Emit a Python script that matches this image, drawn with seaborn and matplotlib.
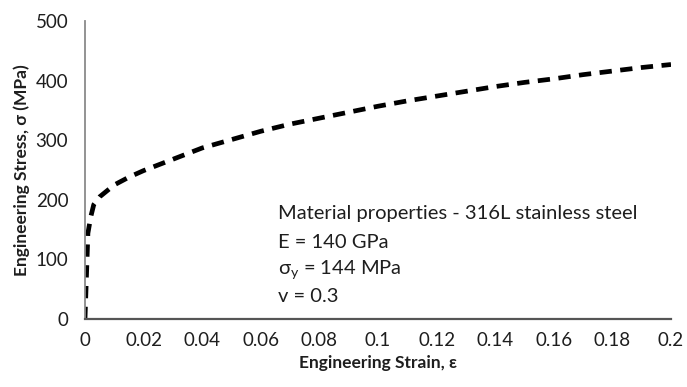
import matplotlib
matplotlib.use("Agg")
import matplotlib.pyplot as plt
import seaborn as sns
import pandas as pd

# Engineering stress-strain curve, 316L stainless steel
strain = [0, 0.001, 0.002, 0.003, 0.005, 0.01, 0.015, 0.02, 0.03, 0.04, 0.05,
          0.06, 0.07, 0.08, 0.09, 0.10, 0.11, 0.12, 0.13, 0.14, 0.15, 0.16,
          0.17, 0.18, 0.19, 0.20]
stress = [0, 144, 172, 192, 205, 225, 238, 249, 268, 287, 301, 315, 327, 337,
          347, 357, 366, 374, 382, 390, 397, 403, 410, 416, 422, 427]

x_ticks = [0, 0.02, 0.04, 0.06, 0.08, 0.1, 0.12, 0.14, 0.16, 0.18, 0.2]
x_tick_labels = ["0", "0.02", "0.04", "0.06", "0.08", "0.1", "0.12", "0.14",
                 "0.16", "0.18", "0.2"]
y_ticks = [0, 100, 200, 300, 400, 500]
y_tick_labels = ["0", "100", "200", "300", "400", "500"]

props = ["Material properties - 316L stainless steel",
         "E = 140 GPa",
         r"$\mathregular{\sigma_y}$ = 144 MPa",
         "v = 0.3"]

sns.set_style("white")
plt.rcParams["font.family"] = ["Lato", "DejaVu Sans"]
plt.rcParams["mathtext.fontset"] = "custom"
plt.rcParams["mathtext.rm"] = "Lato"
plt.rcParams["mathtext.it"] = "Lato:italic"
plt.rcParams["mathtext.fallback"] = "stix"

df = pd.DataFrame({"strain": strain, "stress": stress})

fig = plt.figure(figsize=(6.87, 3.87), dpi=100)
ax = fig.add_axes([0.1237, 0.1757, 0.8530, 0.7700])

sns.lineplot(data=df, x="strain", y="stress", ax=ax, color="black",
             linewidth=3.4, linestyle=(0, (2.6, 1.8)), sort=False)

ax.set_xlim(0, 0.2)
ax.set_ylim(0, 500)
ax.set_xticks(x_ticks)
ax.set_xticklabels(x_tick_labels)
ax.set_yticks(y_ticks)
ax.set_yticklabels(y_tick_labels)
ax.tick_params(axis="both", length=0, labelsize=13.5, colors="#1e1e1e")
ax.tick_params(axis="x", pad=9)
ax.tick_params(axis="y", pad=12)

for side in ["top", "right"]:
    ax.spines[side].set_visible(False)
ax.spines["left"].set_color("#8a8a8a")
ax.spines["left"].set_linewidth(1.3)
ax.spines["bottom"].set_color("#555555")
ax.spines["bottom"].set_linewidth(1.6)

ax.set_xlabel("Engineering Strain, ε", fontsize=12.5, fontweight="bold",
              color="#1e1e1e", labelpad=5)
ax.set_ylabel("Engineering Stress, σ (MPa)", fontsize=12.5, fontweight="bold",
              color="#1e1e1e", labelpad=4)

ys = [213, 242, 270, 297]
for txt, yp in zip(props, ys):
    fig.text(278 / 687, 1 - yp / 387, txt, fontsize=14.5, color="#1e1e1e",
             ha="left", va="center")

fig.savefig("out.png", dpi=100)
